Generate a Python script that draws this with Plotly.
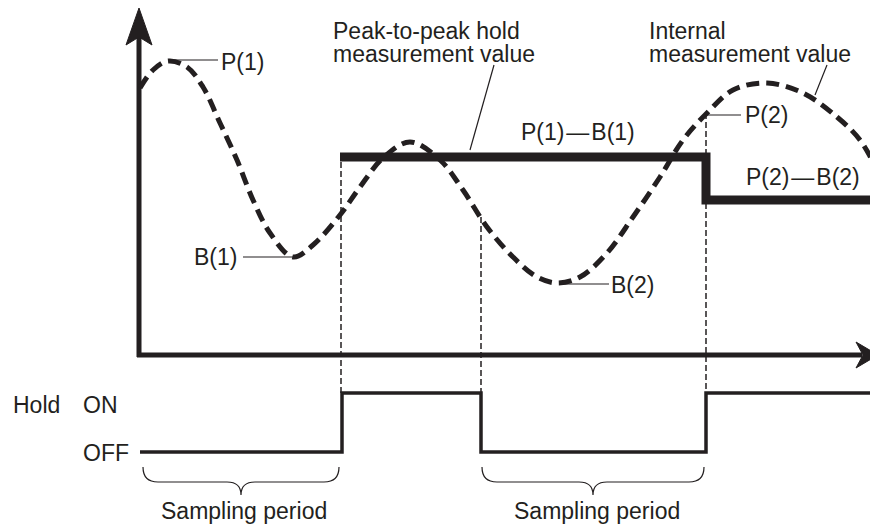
import plotly.graph_objects as go

INK = "#231f20"
FONT = "Liberation Sans, Arial, sans-serif"

wave_x = [140, 153, 168, 187, 203, 220, 237, 253, 270, 293, 313, 340, 360, 383, 410,
          440, 463, 487, 513, 537, 557, 580, 607, 633, 660, 683, 707, 733, 767, 803,
          837, 860, 878]
wave_y = [88, 70, 61, 67, 87, 123, 160, 200, 233, 257, 245, 215, 187, 158, 142,
          160, 190, 227, 257, 277, 283, 277, 253, 217, 177, 140, 113, 90, 83, 93,
          117, 140, 172]

# Peak-to-peak hold measurement value (thick step line)
hold_x = [340, 706, 706, 878]
hold_y = [157, 157, 200, 200]

# Hold signal ON/OFF
sig_x = [140, 342, 342, 481, 481, 706, 706, 878]
sig_y = [452, 452, 393, 393, 452, 452, 393, 393]

# Sampling boundaries (dotted guides): x, top y
guide_x = [341, 481, 706]
guide_top = [162, 217, 113]
guide_bottom = 393

# Sampling-period braces: left, right
brace_l = [143, 482]
brace_r = [339, 704]

fig = go.Figure()

# axes
fig.add_trace(go.Scatter(x=[139, 139], y=[357, 30], mode="lines",
                         line=dict(color=INK, width=5), hoverinfo="skip"))
fig.add_trace(go.Scatter(x=[137, 862], y=[355, 355], mode="lines",
                         line=dict(color=INK, width=5), hoverinfo="skip"))
fig.add_trace(go.Scatter(x=[139, 152, 139, 126, 139], y=[8, 45, 37, 45, 8], mode="lines",
                         fill="toself", fillcolor=INK, line=dict(color=INK, width=1),
                         hoverinfo="skip"))
fig.add_trace(go.Scatter(x=[878, 856, 863, 856, 878], y=[355, 342, 355, 368, 355], mode="lines",
                         fill="toself", fillcolor=INK, line=dict(color=INK, width=1),
                         hoverinfo="skip"))

# dotted guides
for gx, gt in zip(guide_x, guide_top):
    fig.add_trace(go.Scatter(x=[gx, gx], y=[gt, guide_bottom], mode="lines",
                             line=dict(color=INK, width=1.5, dash="6px,3px"),
                             hoverinfo="skip"))

# wave
fig.add_trace(go.Scatter(x=wave_x, y=wave_y, mode="lines",
                         line=dict(color=INK, width=5, dash="13px,7px", shape="spline",
                                   smoothing=1.0),
                         hoverinfo="skip"))

# hold value
fig.add_trace(go.Scatter(x=hold_x, y=hold_y, mode="lines",
                         line=dict(color=INK, width=9), hoverinfo="skip"))

# hold signal
fig.add_trace(go.Scatter(x=sig_x, y=sig_y, mode="lines",
                         line=dict(color=INK, width=3.5), hoverinfo="skip"))

# leader lines
leaders = [((170, 218), (60, 60)), ((243, 293), (257, 257)), ((494, 470), (65, 150)),
           ((827, 815), (65, 95)), ((707, 741), (115, 115)), ((560, 609), (284, 284))]
for (lx, ly) in leaders:
    fig.add_trace(go.Scatter(x=list(lx), y=list(ly), mode="lines",
                             line=dict(color=INK, width=1.2), hoverinfo="skip"))

# braces
shapes = []
for l, r in zip(brace_l, brace_r):
    c = (l + r) / 2
    path = (f"M {l} 467 Q {l} 482 {l+15} 482 L {c-14} 482 Q {c} 482 {c} 495 "
            f"Q {c} 482 {c+14} 482 L {r-15} 482 Q {r} 482 {r} 467")
    shapes.append(dict(type="path", path=path, xref="x", yref="y",
                       line=dict(color=INK, width=1.2)))

texts = [
    ("P(1)", 219, 62), ("B(1)", 192, 257),
    ("Peak-to-peak hold", 331, 31), ("measurement value", 331, 54),
    ("Internal", 647, 31), ("measurement value", 647, 54),
    ("P(1)\u200a\u2014\u200aB(1)", 519, 132), ("P(2)", 743, 115),
    ("P(2)\u200a\u2014\u200aB(2)", 744, 177),
    ("B(2)", 609, 285),
    ("Hold", 11, 405), ("ON", 81, 405), ("OFF", 81, 453),
    ("Sampling period", 159, 511), ("Sampling period", 512, 511),
]
annotations = [dict(text=t, x=x, y=y, xref="x", yref="y", xanchor="left", yanchor="middle",
                    showarrow=False, font=dict(family=FONT, size=23, color=INK))
               for t, x, y in texts]

# The page body has an 8px margin, so the figure is sized to fit and the
# ranges start at 8 to keep the reference's pixel positions.
fig.update_layout(
    width=870, height=519, margin=dict(l=0, r=0, t=0, b=0),
    paper_bgcolor="white", plot_bgcolor="white", showlegend=False,
    xaxis=dict(range=[8, 878], visible=False, fixedrange=True),
    yaxis=dict(range=[527, 8], visible=False, fixedrange=True),
    shapes=shapes, annotations=annotations,
)
fig.write_html("out.html")
